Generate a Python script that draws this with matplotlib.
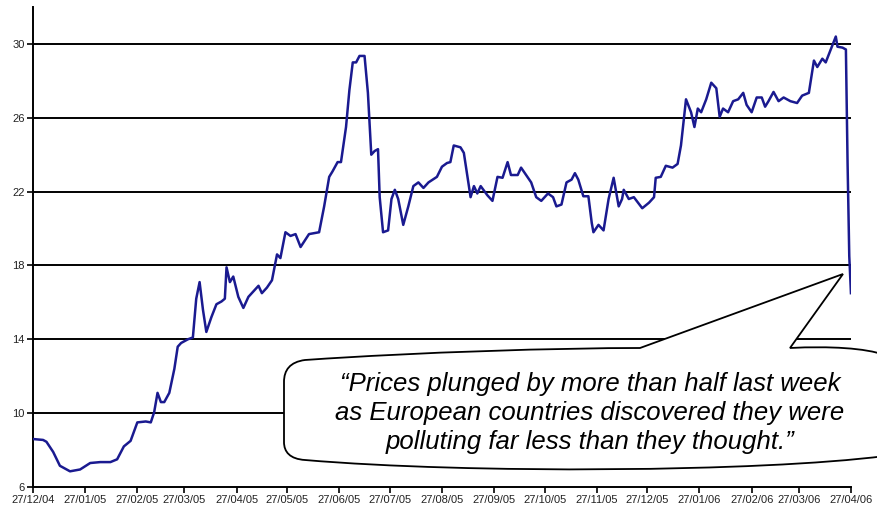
import matplotlib
matplotlib.use("Agg")
import matplotlib.pyplot as plt
import matplotlib.dates as mdates
import matplotlib.transforms as mtransforms
from matplotlib.path import Path
from matplotlib.patches import PathPatch
import pandas as pd

# EU carbon allowance price (EUR/t), Dec 2004 - Apr 2006
dates = [
    "2004-12-27", "2005-01-02", "2005-01-04", "2005-01-08", "2005-01-12", "2005-01-18",
    "2005-01-24", "2005-01-30", "2005-02-05", "2005-02-11", "2005-02-15", "2005-02-19",
    "2005-02-23", "2005-02-25", "2005-02-27", "2005-03-04", "2005-03-07", "2005-03-09",
    "2005-03-11", "2005-03-13", "2005-03-15", "2005-03-18", "2005-03-21", "2005-03-23",
    "2005-03-25", "2005-03-29", "2005-04-01", "2005-04-03", "2005-04-05", "2005-04-07",
    "2005-04-09", "2005-04-12", "2005-04-15", "2005-04-18", "2005-04-20", "2005-04-21",
    "2005-04-23", "2005-04-25", "2005-04-28", "2005-05-01", "2005-05-04", "2005-05-06",
    "2005-05-10", "2005-05-12", "2005-05-15", "2005-05-18", "2005-05-21", "2005-05-23",
    "2005-05-26", "2005-05-29", "2005-06-01", "2005-06-04", "2005-06-09", "2005-06-15",
    "2005-06-18", "2005-06-21", "2005-06-23", "2005-06-26", "2005-06-28", "2005-07-01",
    "2005-07-03", "2005-07-05", "2005-07-07", "2005-07-09", "2005-07-12", "2005-07-14",
    "2005-07-16", "2005-07-18", "2005-07-20", "2005-07-21", "2005-07-23", "2005-07-26",
    "2005-07-28", "2005-07-30", "2005-08-01", "2005-08-04", "2005-08-07", "2005-08-10",
    "2005-08-13", "2005-08-16", "2005-08-19", "2005-08-24", "2005-08-27", "2005-08-30",
    "2005-09-01", "2005-09-03", "2005-09-07", "2005-09-09", "2005-09-12", "2005-09-13",
    "2005-09-15", "2005-09-17", "2005-09-19", "2005-09-23", "2005-09-26", "2005-09-29",
    "2005-10-02", "2005-10-05", "2005-10-07", "2005-10-11", "2005-10-13", "2005-10-16",
    "2005-10-19", "2005-10-22", "2005-10-25", "2005-10-29", "2005-11-01", "2005-11-03",
    "2005-11-06", "2005-11-09", "2005-11-12", "2005-11-14", "2005-11-16", "2005-11-19",
    "2005-11-22", "2005-11-24", "2005-11-25", "2005-11-28", "2005-12-01", "2005-12-04",
    "2005-12-07", "2005-12-10", "2005-12-12", "2005-12-13", "2005-12-16", "2005-12-19",
    "2005-12-24", "2005-12-28", "2005-12-31", "2006-01-01", "2006-01-04", "2006-01-07",
    "2006-01-11", "2006-01-14", "2006-01-16", "2006-01-19", "2006-01-22", "2006-01-24",
    "2006-01-26", "2006-01-28", "2006-01-31", "2006-02-03", "2006-02-06", "2006-02-08",
    "2006-02-10", "2006-02-13", "2006-02-16", "2006-02-19", "2006-02-22", "2006-02-24",
    "2006-02-27", "2006-03-02", "2006-03-05", "2006-03-07", "2006-03-09", "2006-03-12",
    "2006-03-15", "2006-03-18", "2006-03-22", "2006-03-26", "2006-03-29", "2006-04-02",
    "2006-04-05", "2006-04-07", "2006-04-10", "2006-04-12", "2006-04-15", "2006-04-18",
    "2006-04-19", "2006-04-22", "2006-04-24", "2006-04-25", "2006-04-26", "2006-04-27",
]
price = [
    8.6, 8.55, 8.45, 7.9, 7.15, 6.85,
    6.95, 7.3, 7.35, 7.35, 7.5, 8.2,
    8.5, 9.0, 9.5, 9.55, 9.5, 10.05,
    11.1, 10.6, 10.6, 11.1, 12.4, 13.6,
    13.8, 14.0, 14.1, 16.2, 17.1, 15.6,
    14.4, 15.2, 15.9, 16.05, 16.2, 17.9,
    17.1, 17.4, 16.3, 15.7, 16.3, 16.5,
    16.9, 16.5, 16.8, 17.2, 18.6, 18.4,
    19.8, 19.6, 19.7, 19.0, 19.7, 19.8,
    21.2, 22.8, 23.1, 23.6, 23.6, 25.5,
    27.5, 29.0, 29.0, 29.35, 29.35, 27.35,
    24.0, 24.2, 24.3, 21.7, 19.8, 19.9,
    21.6, 22.1, 21.6, 20.2, 21.2, 22.3,
    22.5, 22.2, 22.5, 22.8, 23.35, 23.55,
    23.6, 24.5, 24.4, 24.1, 22.3, 21.7,
    22.3, 21.9, 22.3, 21.8, 21.5, 22.8,
    22.75, 23.6, 22.9, 22.9, 23.3, 22.9,
    22.5, 21.7, 21.5, 21.9, 21.7, 21.2,
    21.3, 22.5, 22.65, 23.0, 22.65, 21.75,
    21.75, 20.3, 19.8, 20.2, 19.9, 21.6,
    22.75, 21.2, 21.6, 22.1, 21.6, 21.7,
    21.1, 21.4, 21.7, 22.75, 22.8, 23.4,
    23.3, 23.5, 24.5, 27.0, 26.3, 25.5,
    26.5, 26.3, 27.0, 27.9, 27.6, 26.05,
    26.5, 26.3, 26.9, 27.0, 27.35, 26.7,
    26.3, 27.1, 27.1, 26.6, 26.9, 27.4,
    26.9, 27.1, 26.9, 26.8, 27.2, 27.35,
    29.1, 28.75, 29.2, 29.0, 29.7, 30.4,
    29.85, 29.8, 29.7, 23.5, 18.5, 16.5,
]

tick_dates = pd.date_range("2004-12-01", "2006-04-01", freq="MS") + pd.Timedelta(days=26)
y_ticks = [6, 10, 14, 18, 22, 26, 30]
quote = ("\u201cPrices plunged by more than half last week\n"
         "as European countries discovered they were\n"
         "polluting far less than they thought.\u201d")

plt.rcParams['font.family'] = ['Liberation Sans', 'DejaVu Sans']

fig = plt.figure(figsize=(8.77, 5.12), dpi=100)
ax = fig.add_axes([0.0376, 0.0488, 0.9327, 0.9375])

x = pd.to_datetime(dates)
ax.plot(x, price, color='#1a1a90', linewidth=1.8, zorder=3)

ax.set_xlim(pd.Timestamp("2004-12-27"), pd.Timestamp("2006-04-27"))
ax.set_ylim(6, 32)
ax.set_yticks(y_ticks)
ax.set_xticks(tick_dates)
ax.xaxis.set_major_formatter(mdates.DateFormatter('%d/%m/%y'))
ax.tick_params(axis='both', labelsize=8, labelcolor='#222222', length=4,
               width=1.2, color='black', pad=2)

for v in y_ticks[1:]:
    ax.axhline(v, color='black', linewidth=1.4, zorder=2)

for side in ['top', 'right']:
    ax.spines[side].set_visible(False)
for side in ['left', 'bottom']:
    ax.spines[side].set_linewidth(1.4)

# speech bubble, laid out in pixel coordinates from the top-left corner
px = mtransforms.Affine2D().scale(1 / 877, -1 / 512).translate(0, 1) + fig.transFigure
verts = [
    (284, 382),
    (284, 370), (290, 362), (305, 360),
    (420, 352), (560, 348), (640, 348),
    (843, 274),
    (790, 348),
    (830, 346), (865, 348), (885, 355),
    (885, 456),
    (760, 472), (470, 474), (305, 460),
    (290, 459), (284, 452), (284, 442),
    (284, 382),
]
codes = ([Path.MOVETO] + [Path.CURVE4] * 3 + [Path.CURVE4] * 3 + [Path.LINETO] * 2
         + [Path.CURVE4] * 3 + [Path.LINETO] + [Path.CURVE4] * 3 + [Path.CURVE4] * 3
         + [Path.CLOSEPOLY])
bubble = PathPatch(Path(verts, codes), transform=px, facecolor='white',
                   edgecolor='black', linewidth=1.3, zorder=5, clip_on=False)
fig.add_artist(bubble)

fig.text(590 / 877, 1 - 413 / 512, quote, ha='center', va='center',
         fontsize=18.5, style='italic', linespacing=1.27, zorder=6)

fig.savefig("out.png", dpi=100)
